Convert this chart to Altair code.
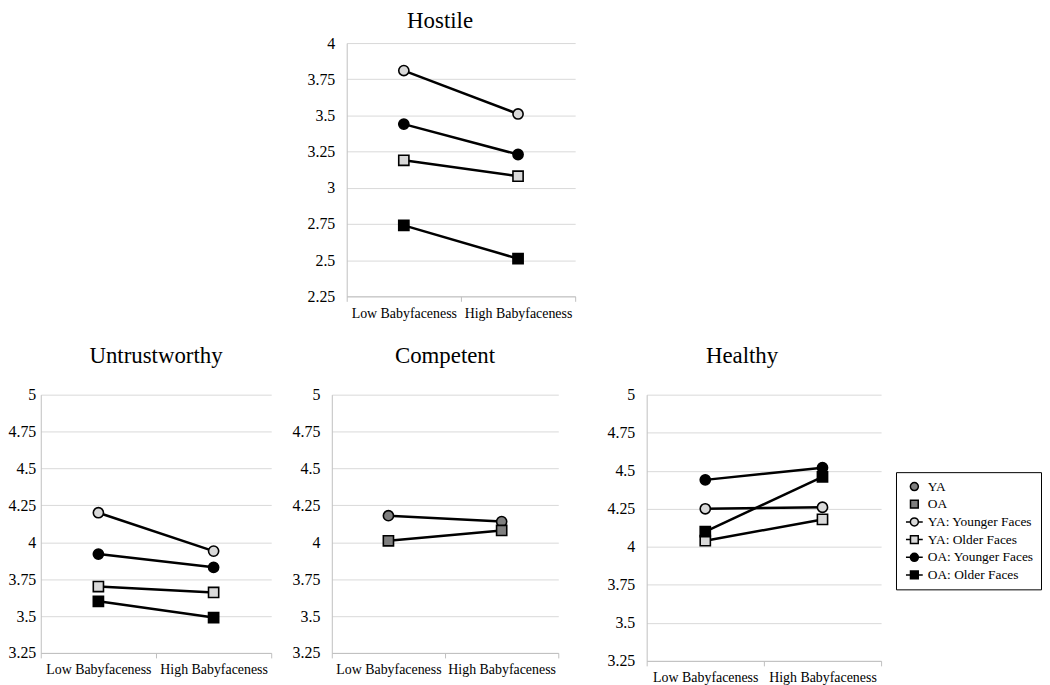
import altair as alt
import pandas as pd

FONT = "Liberation Serif"
GRID = "#d9d9d9"
AXIS = "#bfbfbf"

conds = ["Low Babyfaceness", "High Babyfaceness"]
series_names = ["YA", "OA", "YA: Younger Faces", "YA: Older Faces", "OA: Younger Faces", "OA: Older Faces"]
series_fill = ["#7f7f7f", "#7f7f7f", "#d9d9d9", "#d9d9d9", "#000000", "#000000"]
point_shapes = ["circle", "square", "circle", "square", "circle", "square"]
legend_shapes = [
    "M0.62,0A0.62,0.62,0,1,1,-0.62,0A0.62,0.62,0,1,1,0.62,0Z",
    "M-0.6,-0.6H0.6V0.6H-0.6Z",
    "M-1.3,0H-0.62M0.62,0H1.3M0.62,0A0.62,0.62,0,1,1,-0.62,0A0.62,0.62,0,1,1,0.62,0Z",
    "M-1.3,0H-0.6M0.6,0H1.3M-0.6,-0.6H0.6V0.6H-0.6Z",
    "M-1.3,0H-0.62M0.62,0H1.3M0.62,0A0.62,0.62,0,1,1,-0.62,0A0.62,0.62,0,1,1,0.62,0Z",
    "M-1.3,0H-0.6M0.6,0H1.3M-0.6,-0.6H0.6V0.6H-0.6Z",
]
legend_strokes = ["black"] * 6

four_series = ["YA: Younger Faces", "OA: Younger Faces", "YA: Older Faces", "OA: Older Faces"]

hostile_low = [3.81, 3.44, 3.19, 2.74]
hostile_high = [3.51, 3.23, 3.08, 2.51]

untrust_low = [4.20, 3.92, 3.70, 3.60]
untrust_high = [3.94, 3.83, 3.66, 3.49]

competent_series = ["YA", "OA"]
competent_low = [4.18, 4.01]
competent_high = [4.14, 4.08]

healthy_low = [4.25, 4.44, 4.04, 4.10]
healthy_high = [4.26, 4.52, 4.18, 4.46]

ticks_top = [2.25, 2.5, 2.75, 3, 3.25, 3.5, 3.75, 4]
ticks_bottom = [3.25, 3.5, 3.75, 4, 4.25, 4.5, 4.75, 5]


def make_df(series, low, high):
    rows = []
    for s, lo, hi in zip(series, low, high):
        rows.append({"series": s, "cond": conds[0], "value": lo})
        rows.append({"series": s, "cond": conds[1], "value": hi})
    return pd.DataFrame(rows)


def panel(title, series, low, high, ticks, w, h, ypad, title_offset, title_dx, legend=False):
    df = make_df(series, low, high)
    base = alt.Chart(df)
    x = alt.X(
        "cond:N", sort=conds, title=None,
        scale=alt.Scale(domain=conds, paddingInner=0, paddingOuter=0),
        axis=alt.Axis(tickBand="extent", labelAngle=0, domainColor=AXIS, tickColor=AXIS,
                      tickSize=5, labelFont=FONT, labelFontSize=14, labelColor="black",
                      grid=False, labelPadding=5),
    )
    y = alt.Y(
        "value:Q", title=None,
        scale=alt.Scale(domain=[ticks[0], ticks[-1]], nice=False, zero=False),
        axis=alt.Axis(values=ticks, format=".2~f", grid=True, gridColor=GRID, domainColor=AXIS,
                      ticks=False, labelPadding=ypad,
                      labelFont=FONT, labelFontSize=16, labelColor="black"),
    )
    lines = base.mark_line(color="black", strokeWidth=2.5).encode(x=x, y=y, detail="series:N")
    pts = base.mark_point(filled=True, size=105, stroke="black", strokeWidth=1.6, opacity=1).encode(
        x=x, y=y,
        fill=alt.Fill("series:N", scale=alt.Scale(domain=series_names, range=series_fill), legend=None),
        shape=alt.Shape("series:N", scale=alt.Scale(domain=series_names, range=point_shapes), legend=None),
    )
    layers = [lines, pts]
    if legend:
        leg = alt.Legend(title=None, orient="none", legendX=251, legendY=78, strokeColor="black",
                         padding=7, rowPadding=2.8, labelFont=FONT, labelFontSize=13.5, labelColor="black",
                         symbolSize=169, symbolStrokeColor="black", symbolStrokeWidth=1.5,
                         symbolOffset=4, labelOffset=6, fillColor="white")
        lg = base.transform_filter("false").mark_point(filled=True, size=169, strokeWidth=1.5,
                                                       opacity=1).encode(
            x=x, y=y,
            fill=alt.Fill("series:N", scale=alt.Scale(domain=series_names, range=series_fill), legend=leg),
            shape=alt.Shape("series:N", scale=alt.Scale(domain=series_names, range=legend_shapes), legend=leg),
            stroke=alt.Stroke("series:N", scale=alt.Scale(domain=series_names, range=legend_strokes), legend=leg),
        )
        layers.append(lg)
    return alt.layer(*layers).resolve_scale(
        fill="independent", shape="independent", stroke="independent"
    ).properties(
        width=w, height=h,
        title=alt.TitleParams(title, font=FONT, fontSize=23, fontWeight="normal", color="black",
                              offset=title_offset, dx=title_dx, anchor="middle"),
    )


spacer = alt.Chart(pd.DataFrame({"a": [0]})).mark_point(opacity=0).encode(
    x=alt.value(0), y=alt.value(0)).properties(width=248, height=10)

hostile = panel("Hostile", four_series, hostile_low, hostile_high, ticks_top, 230, 255, 12, 2, -21)
untrust = panel("Untrustworthy", four_series, untrust_low, untrust_high, ticks_bottom, 232, 260, 5, 19, 0)
competent = panel("Competent", competent_series, competent_low, competent_high, ticks_bottom, 228, 260, 12, 19, 0)
healthy = panel("Healthy", four_series, healthy_low, healthy_high, ticks_bottom, 236, 268, 12, 19, -22, legend=True)

RES = dict(fill="independent", shape="independent", stroke="independent")

top = alt.hconcat(spacer, hostile, spacing=20).resolve_scale(**RES)
left_pair = alt.hconcat(untrust, competent, spacing=20).resolve_scale(**RES)
bottom = alt.hconcat(left_pair, healthy, spacing=48).resolve_scale(**RES)

chart = alt.vconcat(top, bottom, spacing=25).resolve_scale(**RES).properties(
    padding=0, background="white"
).configure_view(stroke=None)

chart.save("out.html", embed_options={"renderer": "svg", "actions": False})
